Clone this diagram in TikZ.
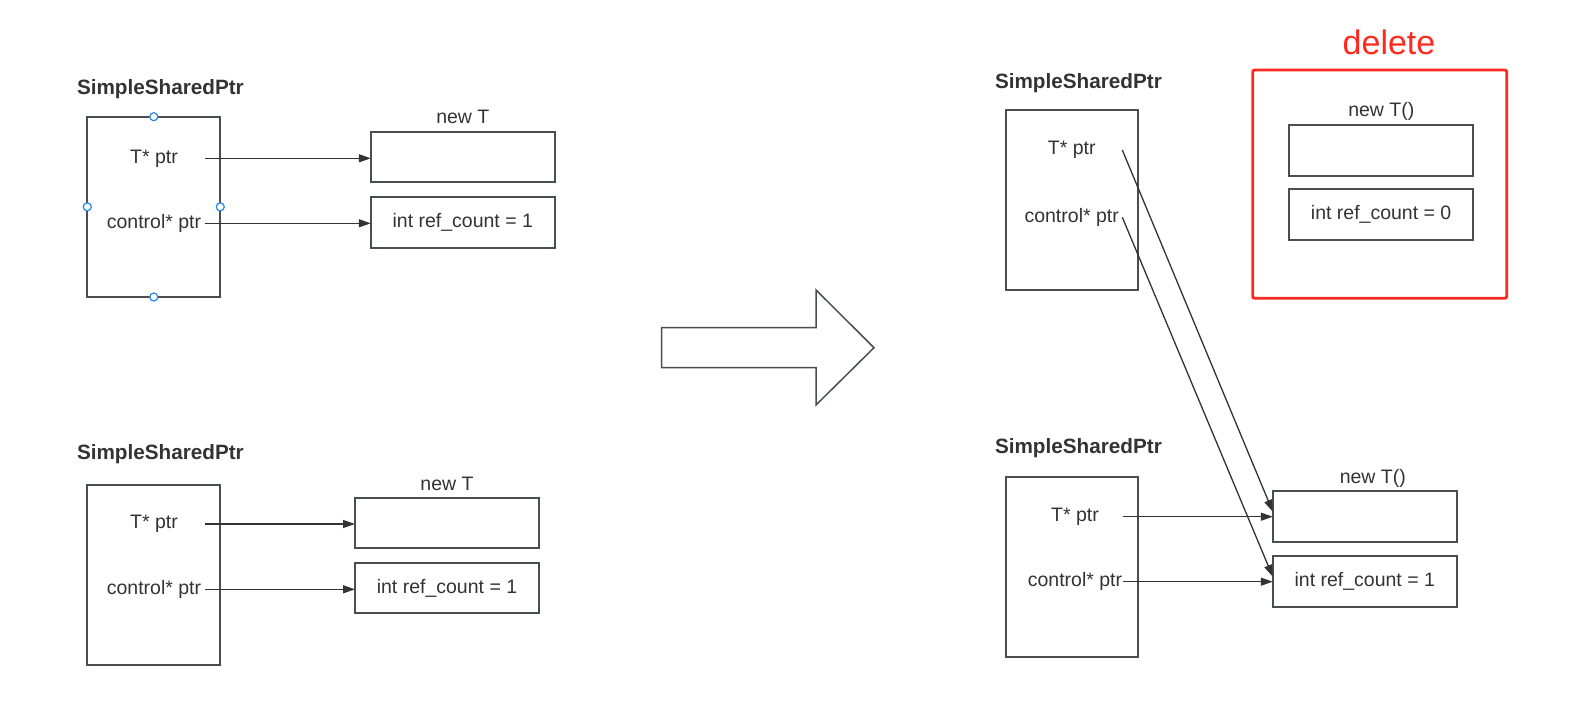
\documentclass[tikz,border=0pt]{standalone}
\usepackage{fontspec}
\setmainfont{Liberation Sans}
\usetikzlibrary{arrows.meta,calc}
\definecolor{txt}{HTML}{333333}
\definecolor{boxc}{HTML}{4A4E53}
\definecolor{linec}{HTML}{333333}
\definecolor{handle}{HTML}{1E88E5}
\definecolor{delred}{HTML}{FF2A1F}
\begin{document}
\begin{tikzpicture}[x=1pt,y=-1pt,
 every node/.style={inner sep=0pt, outer sep=0pt, text=txt, font=\fontsize{19.5}{22}\selectfont},
 lbl/.style={text height=14pt, text depth=4pt, align=center},
 ttl/.style={font=\fontsize{20.7}{24}\selectfont\bfseries, anchor=base west},
 caplbl/.style={anchor=base},
 ptrbox/.style={draw=boxc, line width=1.8pt},
 membox/.style={draw=boxc, line width=1.8pt, minimum width=184pt, minimum height=50.6pt},
 conn/.style={draw=linec, line width=1.3pt, -{Triangle[length=12pt,width=8pt]}},
 hdl/.style={circle, draw=handle, fill=white, line width=1.2pt, minimum size=8pt},
]
\fill[white] (0,0) rectangle (1583,708);
\useasboundingbox (0,0) rectangle (1583,708);

% ---------- left top ----------
\node[ttl] (ti1) at (77,95) {SimpleSharedPtr};
\node[ptrbox, minimum width=133pt, minimum height=180.3pt] (p1) at (153.8,206.85) {};
\node[lbl, minimum width=102pt] (t1) at (154,158.3) {T* ptr};
\node[lbl, minimum width=102pt] (c1) at (154,223.3) {control* ptr};
\node[caplbl] (n1l) at (462.8,123.3) {new T};
\node[membox] (nb1) at (462.8,157) {};
\node[membox, minimum height=51pt] (rb1) at (462.8,222.2) {int ref\_count = 1};
\draw[conn] (t1.east) -- (t1.east -| nb1.west);
\draw[conn] (c1.east) -- (c1.east -| rb1.west);
\node[hdl] (h1) at (p1.north) {};
\node[hdl] (h2) at (p1.south) {};
\node[hdl] (h3) at (p1.west) {};
\node[hdl] (h4) at (p1.east) {};

% ---------- left bottom ----------
\node[ttl] (ti2) at (77,459.3) {SimpleSharedPtr};
\node[ptrbox, minimum width=132.7pt, minimum height=180pt] (p2) at (153.65,575) {};
\node[lbl, minimum width=102pt] (t2) at (154,524) {T* ptr};
\node[lbl, minimum width=102pt] (c2) at (154,589.3) {control* ptr};
\node[caplbl] (n2l) at (447,490) {new T};
\node[membox, minimum height=50pt] (nb2) at (447,523.3) {};
\node[membox, minimum height=50pt] (rb2) at (447,588.3) {int ref\_count = 1};
\draw[conn] (t2.east) -- (t2.east -| nb2.west);
\draw[conn] (c2.east) -- (c2.east -| rb2.west);

% ---------- big arrow ----------
\draw[draw=boxc, line width=1.5pt, line join=miter]
  (661.7,327.7) -- (816,327.7) -- (816,290) -- (874,347.7) -- (816,405)
  -- (816,367.7) -- (661.7,367.7) -- cycle;

% ---------- right top ----------
\node[ttl] (ti3) at (995,88.3) {SimpleSharedPtr};
\node[ptrbox, minimum width=132.3pt, minimum height=180pt] (p3) at (1072.15,200) {};
\node[lbl, minimum width=101.2pt] (t3) at (1071.7,150) {T* ptr};
\node[lbl, minimum width=101.2pt] (c3) at (1071.7,217.3) {control* ptr};
\node[caplbl, text=delred, font=\fontsize{34}{40}\selectfont] (dl) at (1389,55) {delete};
\node[draw=delred, line width=2.8pt, rounded corners=2pt, minimum width=254pt, minimum height=228.3pt] (del) at (1379.7,184.15) {};
\node[caplbl] (n3l) at (1381.3,116.7) {new T()};
\node[membox, minimum width=184.3pt, minimum height=51pt] (nb3) at (1381.15,150.5) {};
\node[membox, minimum width=184.3pt, minimum height=51pt] (rb3) at (1381.15,214.5) {int ref\_count = 0};

% ---------- right bottom ----------
\node[ttl] (ti4) at (995,453.3) {SimpleSharedPtr};
\node[ptrbox, minimum width=132.3pt, minimum height=180pt] (p4) at (1072.15,566.7) {};
\node[lbl, minimum width=96.6pt] (t4) at (1075,516.7) {T* ptr};
\node[lbl, minimum width=96.6pt] (c4) at (1075,581.7) {control* ptr};
\node[caplbl] (n4l) at (1372.8,483.3) {new T()};
\node[membox, minimum height=50.7pt] (nb4) at (1364.8,516.35) {};
\node[membox, minimum height=50.7pt] (rb4) at (1364.8,581.35) {int ref\_count = 1};
\draw[conn] (t4.east) -- (t4.east -| nb4.west);
\draw[conn] (c4.east) -- (c4.east -| rb4.west);
\draw[conn] (t3.east) -- ([yshift=4.6pt]nb4.west);
\draw[conn] (c3.east) -- ([yshift=4.6pt]rb4.west);
\end{tikzpicture}
\end{document}
